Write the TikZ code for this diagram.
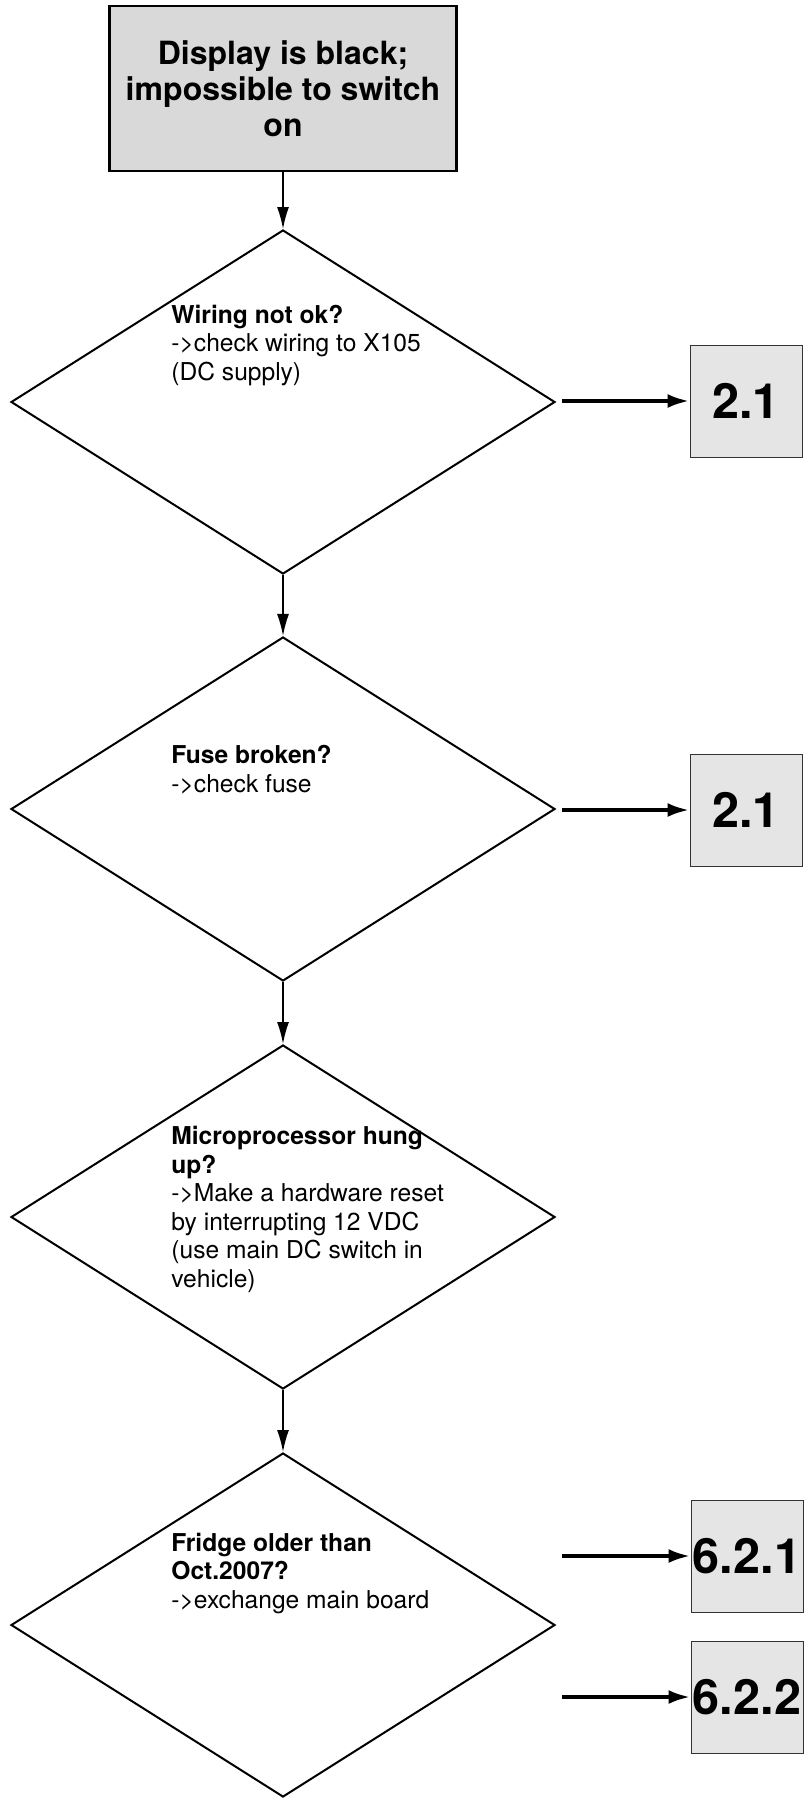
\documentclass[tikz,border=0pt]{standalone}
\usepackage{fontspec}
\setmainfont{TeX Gyre Heros}
\usetikzlibrary{shapes.geometric,arrows.meta}
\begin{document}
\begin{tikzpicture}[
    x=0.5pt, y=-0.5pt,
    every node/.style={font=\fontsize{12.3}{14.25}\selectfont},
    startbox/.style={draw=black, line width=1.2pt, fill=black!15, minimum width=173.5pt,
      minimum height=82.5pt, align=center, inner sep=0pt, font=\bfseries\fontsize{16}{18}\selectfont},
    decision/.style={diamond, draw=black, line width=1pt, minimum width=272pt,
      minimum height=172pt, inner sep=0pt},
    desc/.style={anchor=base west, align=left, inner sep=0pt},
    refbox/.style={draw=black!80, line width=0.5pt, fill=black!10, minimum size=56pt,
      inner sep=0pt, font=\bfseries\fontsize{24.3}{26}\selectfont},
    flow/.style={line width=0.8pt, -{Latex[length=11pt,width=6pt]}},
    jump/.style={line width=2pt, -{Latex[length=11pt,width=7pt]}},
  ]
    % Page: 809 x 1798 px, 1 px = 0.5pt
    \useasboundingbox (0,0) rectangle (809,1798);

    \def\xc{283}   % centre line of the chart
    \def\xt{171}   % left edge of the texts
    \def\xj{562}   % start of the jump arrows

    % Start
    \node[startbox] (start) at (\xc, 88.5) {Display is black;\\impossible to switch\\on};

    % Decisions
    \node[decision] (wiring) at (\xc, 402) {};
    \node[decision] (fuse) at (\xc, 809) {};
    \node[decision] (cpu) at (\xc, 1217) {};
    \node[decision] (fridge) at (\xc, 1625) {};

    % Texts in the decisions (placed by the baseline of their last line)
    \node[desc] (wiringtxt) at (\xt, 380)
      {\textbf{Wiring not ok?}\\->check wiring to X105\\(DC supply)};
    \node[desc] (fusetxt) at (\xt, 792)
      {\textbf{Fuse broken?}\\->check fuse};
    \node[desc] (cputxt) at (\xt, 1287)
      {\textbf{Microprocessor hung}\\\textbf{up?}\\->Make a hardware reset\\by interrupting 12 VDC\\(use main DC switch in\\vehicle)};
    \node[desc] (fridgetxt) at (\xt, 1608)
      {\textbf{Fridge older than}\\\textbf{Oct.2007?}\\->exchange main board};

    % References
    \node[refbox] (ref1) at (746, 401) {2.1};
    \node[refbox] (ref2) at (746, 810) {2.1};
    \node[refbox] (ref3) at (747, 1556) {6.2.1};
    \node[refbox] (ref4) at (747, 1697) {6.2.2};

    % Main flow
    \draw[flow] (start.south) -- (start.south -| wiring.north) -- (wiring.north);
    \draw[flow] (wiring) -- (fuse);
    \draw[flow] (fuse) -- (cpu);
    \draw[flow] (cpu) -- (fridge);

    % Jumps
    \coordinate (j1) at (\xj, 401);
    \coordinate (j2) at (\xj, 810);
    \coordinate (j3) at (\xj, 1556);
    \coordinate (j4) at (\xj, 1697);
    \draw[jump] (j1) -- (ref1);
    \draw[jump] (j2) -- (ref2);
    \draw[jump] (j3) -- (ref3);
    \draw[jump] (j4) -- (ref4);

  \end{tikzpicture}
\end{document}
